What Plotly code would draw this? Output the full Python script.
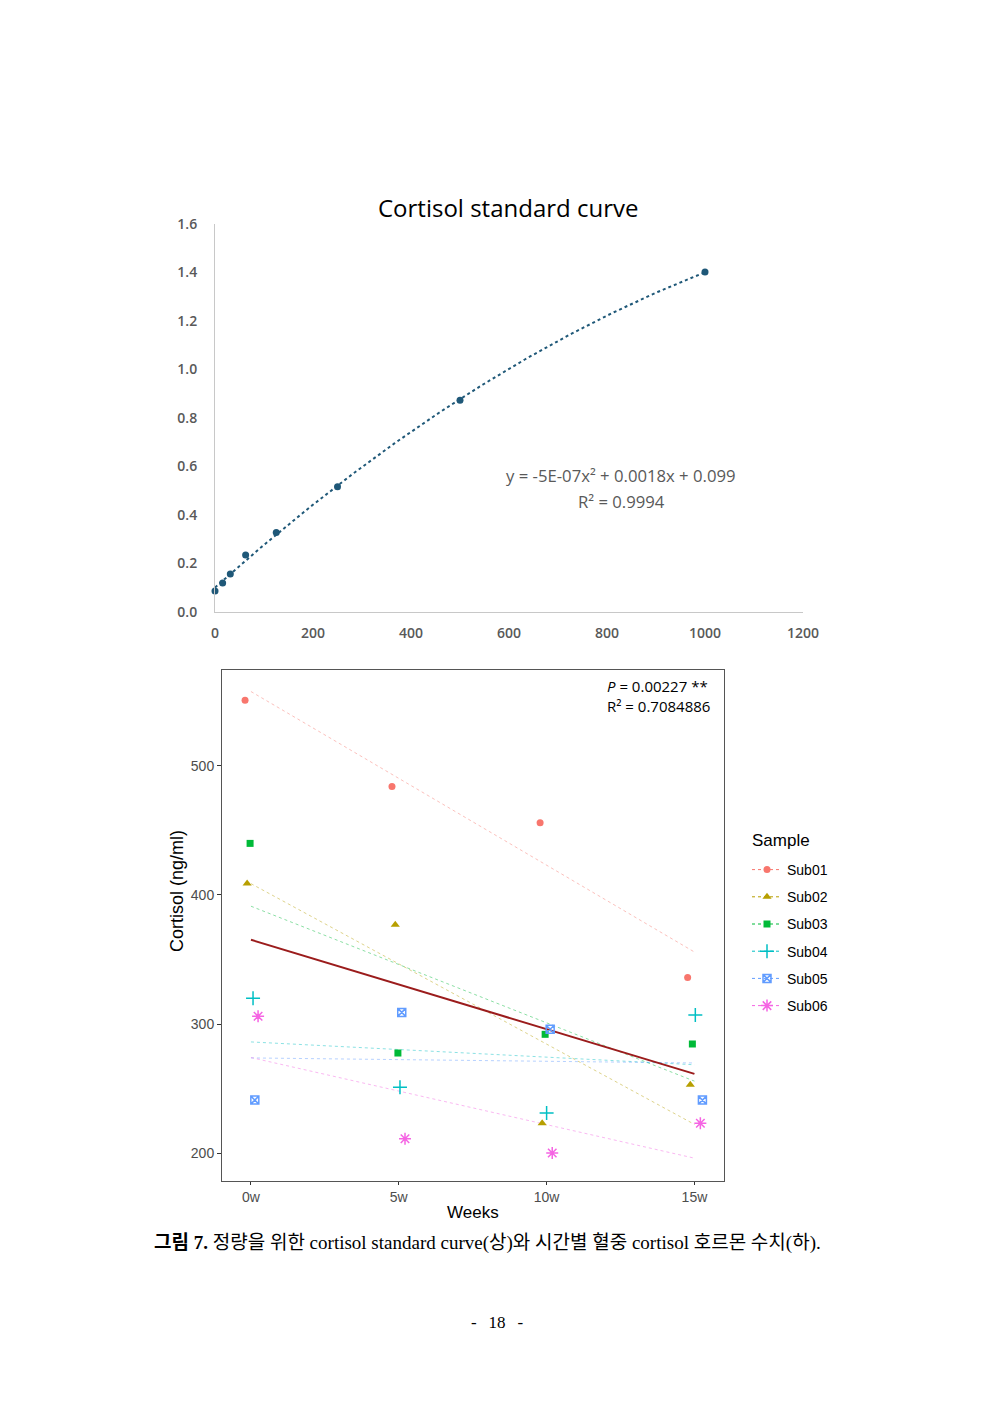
import numpy as np
import plotly.graph_objects as go

# ---------------- Data: standard curve ----------------
std_conc = [0, 15.6, 31.25, 62.5, 125, 250, 500, 1000]
std_od = [0.087, 0.12, 0.157, 0.235, 0.328, 0.517, 0.873, 1.402]
std_xticks = [0, 200, 400, 600, 800, 1000, 1200]
std_yticks = [0.0, 0.2, 0.4, 0.6, 0.8, 1.0, 1.2, 1.4, 1.6]

# ---------------- Data: cortisol by week ----------------
weeks = [0, 5, 10, 15]
week_labels = ["0w", "5w", "10w", "15w"]
subjects = ["Sub01", "Sub02", "Sub03", "Sub04", "Sub05", "Sub06"]
# jittered x positions as plotted
jit_x = {
    "Sub01": [-0.2, 4.77, 9.78, 14.77],
    "Sub02": [-0.13, 4.88, 9.85, 14.86],
    "Sub03": [-0.03, 4.97, 9.95, 14.93],
    "Sub04": [0.07, 5.04, 10.0, 15.03],
    "Sub05": [0.13, 5.1, 10.12, 15.27],
    "Sub06": [0.24, 5.21, 10.19, 15.2],
}
cortisol = {
    "Sub01": [551, 484, 456, 336],
    "Sub02": [409, 377, 223, 253],
    "Sub03": [440, 277.5, 292, 284.5],
    "Sub04": [320, 251, 231, 307],
    "Sub05": [241, 309, 296, 241],
    "Sub06": [306, 211, 200, 223],
}
colors = ["#F8766D", "#B79F00", "#00BA38", "#00BFC4", "#619CFF", "#F564E3"]
symbols = ["circle", "triangle-up", "square", "cross-thin-open", "square-x-open", "asterisk-open"]
msizes = [7, 8, 7, 10, 8, 10]
line_symbols = [False, False, False, True, True, True]

W, H = 992, 1403
def px_x(p): return p / W
def px_y(p): return 1 - p / H

fig = go.Figure()

# ---- Top chart ----
coef = np.polyfit(std_conc, std_od, 2)
xs = np.linspace(0, 1000, 200)
fig.add_trace(go.Scatter(x=xs, y=np.polyval(coef, xs), mode="lines",
                         line=dict(color="#1F5878", width=2, dash="dot"),
                         xaxis="x", yaxis="y", showlegend=False, hoverinfo="skip",
                         cliponaxis=False))
fig.add_trace(go.Scatter(x=std_conc, y=std_od, mode="markers",
                         marker=dict(color="#1F5878", size=7),
                         xaxis="x", yaxis="y", showlegend=False, cliponaxis=False))

# ---- Bottom chart ----
for i, s in enumerate(subjects):
    c = np.polyfit(weeks, cortisol[s], 1)
    fig.add_trace(go.Scatter(x=[weeks[0], weeks[-1]], y=np.polyval(c, [weeks[0], weeks[-1]]),
                             mode="lines", line=dict(color=colors[i], width=1, dash="dot"),
                             opacity=0.45, xaxis="x2", yaxis="y2", showlegend=False,
                             hoverinfo="skip"))
all_x = [w for s in subjects for w in weeks]
all_y = [v for s in subjects for v in cortisol[s]]
ca = np.polyfit(all_x, all_y, 1)
fig.add_trace(go.Scatter(x=[0, 15], y=np.polyval(ca, [0, 15]), mode="lines",
                         line=dict(color="#9B1C1C", width=2),
                         xaxis="x2", yaxis="y2", showlegend=False))
for i, s in enumerate(subjects):
    mk = dict(symbol=symbols[i], size=msizes[i], color=colors[i])
    if line_symbols[i]:
        mk["line"] = dict(color=colors[i], width=1.5)
    fig.add_trace(go.Scatter(x=jit_x[s], y=cortisol[s], mode="markers", marker=mk,
                             xaxis="x2", yaxis="y2", showlegend=False, name=s))
    # legend entry
    fig.add_trace(go.Scatter(x=[None], y=[None], mode="lines+markers", marker=mk,
                             line=dict(color=colors[i], width=1, dash="dot"),
                             name=s, legendgroup=s, xaxis="x2", yaxis="y2"))

tick_font_top = dict(family="Open Sans", size=14, color="#595959", weight=600)
tick_font_bot = dict(family="Liberation Sans", size=14, color="#4D4D4D")
fig.update_layout(
    template="none",
    width=W, height=H, autosize=False, margin=dict(l=0, r=0, t=0, b=0, pad=0),
    paper_bgcolor="white", plot_bgcolor="white",
    xaxis=dict(domain=[px_x(215), px_x(803)], range=[0, 1200], tickvals=std_xticks,
               showgrid=False, zeroline=False, showline=True, linecolor="#C8C8C8", linewidth=1,
               ticks="", tickfont=tick_font_top, anchor="y", ticklabelstandoff=8,
               automargin=False),
    yaxis=dict(domain=[px_y(612), px_y(224)], range=[0, 1.6], tickvals=std_yticks,
               tickformat=".1f", showgrid=False, zeroline=False, showline=True,
               linecolor="#C8C8C8", linewidth=1, ticks="", tickfont=tick_font_top,
               anchor="x", ticklabelstandoff=14, automargin=False),
    xaxis2=dict(domain=[px_x(222), px_x(724)], range=[-0.98, 16.0], tickvals=weeks,
                ticktext=week_labels, showgrid=False, zeroline=False, showline=True,
                mirror=True, linecolor="#555555", linewidth=1, ticks="outside", ticklen=3,
                tickcolor="#333333", tickfont=tick_font_bot, anchor="y2", automargin=False),
    yaxis2=dict(domain=[px_y(1181), px_y(670)], range=[178.3, 574.4], tickvals=[200, 300, 400, 500],
                showgrid=False, zeroline=False, showline=True, mirror=True, linecolor="#555555",
                linewidth=1, ticks="outside", ticklen=4, tickcolor="#333333",
                tickfont=tick_font_bot, anchor="x2", automargin=False),
    legend=dict(x=px_x(747), y=px_y(854), xanchor="left", yanchor="top",
                font=dict(family="Liberation Sans", size=14, color="black"),
                tracegroupgap=6, bgcolor="rgba(0,0,0,0)", itemwidth=30, borderwidth=0),
    showlegend=True,
)

annos = [
    dict(text="Cortisol standard curve", x=px_x(508), y=px_y(208), xref="paper", yref="paper",
         showarrow=False, font=dict(family="Open Sans", size=24, color="black"),
         xanchor="center", yanchor="middle"),
    dict(text="y = -5E-07x² + 0.0018x + 0.099", x=px_x(621), y=px_y(476), xref="paper", yref="paper",
         showarrow=False, font=dict(family="Open Sans", size=16.7, color="#595959", weight=500),
         xanchor="center", yanchor="middle"),
    dict(text="R² = 0.9994", x=px_x(621), y=px_y(501), xref="paper", yref="paper",
         showarrow=False, font=dict(family="Open Sans", size=16.7, color="#595959", weight=500),
         xanchor="center", yanchor="middle"),
    dict(text="<i>P</i> = 0.00227 **", x=px_x(605), y=px_y(686), xref="paper", yref="paper",
         showarrow=False, font=dict(family="Open Sans", size=15, color="black"),
         xanchor="left", yanchor="middle"),
    dict(text="R² = 0.7084886", x=px_x(605), y=px_y(706), xref="paper", yref="paper",
         showarrow=False, font=dict(family="Open Sans", size=15, color="black"),
         xanchor="left", yanchor="middle"),
    dict(text="Cortisol (ng/ml)", x=px_x(177), y=px_y(891), xref="paper", yref="paper",
         showarrow=False, textangle=-90, font=dict(family="Liberation Sans", size=18, color="black"),
         xanchor="center", yanchor="middle"),
    dict(text="Weeks", x=px_x(473), y=px_y(1212), xref="paper", yref="paper",
         showarrow=False, font=dict(family="Liberation Sans", size=17, color="black"),
         xanchor="center", yanchor="middle"),
    dict(text="Sample", x=px_x(750), y=px_y(840), xref="paper", yref="paper",
         showarrow=False, font=dict(family="Liberation Sans", size=17, color="black"),
         xanchor="left", yanchor="middle"),
    dict(text="<b>그림 7.</b> 정량을 위한 cortisol standard curve(상)와 시간별 혈중 cortisol 호르몬 수치(하).",
         x=px_x(487), y=px_y(1243), xref="paper", yref="paper", showarrow=False,
         font=dict(family="Liberation Serif, Noto Sans CJK KR", size=19, color="black"),
         xanchor="center", yanchor="middle"),
    dict(text="-\u2002\u200918\u2002\u2009-", x=px_x(497), y=px_y(1322), xref="paper", yref="paper",
         showarrow=False, font=dict(family="Liberation Serif", size=17, color="black"),
         xanchor="center", yanchor="middle"),
]
fig.update_layout(annotations=annos)

fig.write_html("out.html",
               post_script="document.body.style.margin='0';document.body.style.overflow='hidden';")
